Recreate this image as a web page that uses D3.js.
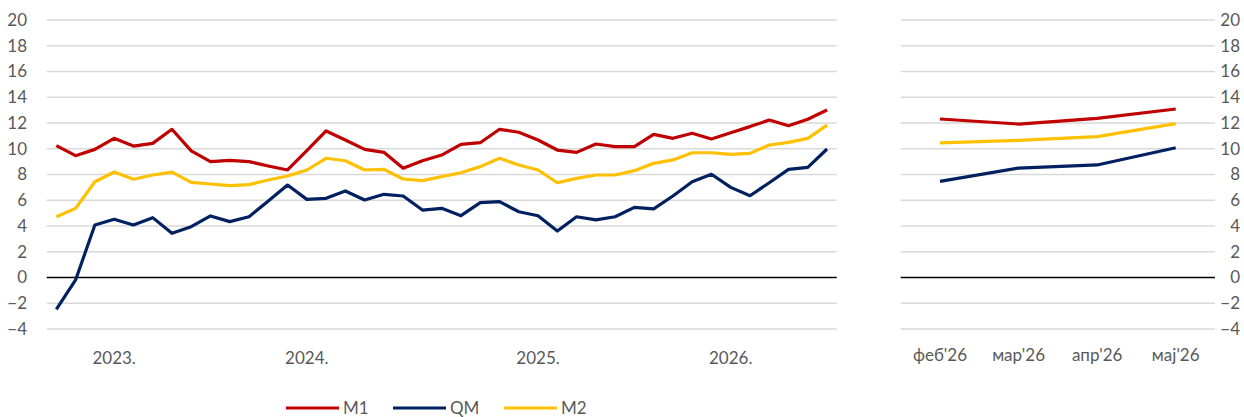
<!DOCTYPE html>
<html>
<head>
<meta charset="utf-8">
<script src="https://cdn.jsdelivr.net/npm/d3@7"></script>
<style>
body{margin:0;background:#fff;}
text{font-family:Lato,"Open Sans",sans-serif;fill:#595959;}
</style>
</head>
<body>
<svg id="chart" width="1244" height="417"></svg>
<script>
// x labels of the long panel (only some months carry a year label)
const yearLabels=["","","","2023.","","","","","","","","","","2024.","","","","","","","","","","","","2025.","","","","","","","","","","2026.","","","","",""];
const m1=[10.24,9.46,9.95,10.81,10.21,10.42,11.51,9.83,9.0,9.1,9.0,8.66,8.35,9.85,11.38,10.68,9.95,9.72,8.48,9.07,9.51,10.34,10.47,11.51,11.28,10.68,9.9,9.72,10.37,10.16,10.16,11.12,10.81,11.2,10.76,11.25,11.72,12.23,11.79,12.29,13.01];
const qm=[-2.47,-0.19,4.08,4.52,4.08,4.65,3.43,3.95,4.78,4.34,4.72,5.94,7.18,6.07,6.15,6.72,6.02,6.46,6.33,5.24,5.37,4.8,5.81,5.89,5.11,4.8,3.61,4.72,4.47,4.72,5.45,5.33,6.33,7.44,8.02,7.0,6.35,7.36,8.4,8.56,9.98];
const m2=[4.72,5.37,7.44,8.19,7.63,7.96,8.19,7.39,7.26,7.13,7.21,7.57,7.88,8.35,9.26,9.07,8.35,8.4,7.65,7.52,7.83,8.14,8.61,9.26,8.74,8.35,7.36,7.7,7.96,7.96,8.3,8.87,9.13,9.69,9.69,9.57,9.64,10.29,10.5,10.81,11.84];

// short panel
const monthLabels=["феб'26","мар'26","апр'26","мај'26"];
const m1Short=[12.31,11.92,12.36,13.09];
const qmShort=[7.47,8.5,8.74,10.08];
const m2Short=[10.45,10.65,10.94,11.95];

const yTicks=[-4,-2,0,2,4,6,8,10,12,14,16,18,20];

const svg=d3.select('#chart');
const colors={M1:'#C00000',QM:'#002060',M2:'#FFC000'};
const fontSize=17;

const y=d3.scaleLinear().domain([-4,20]).range([329,20]);

function panel(x0,x1,cats,series,labelSide,labelY){
	const x=d3.scaleBand().domain(d3.range(cats.length)).range([x0,x1]);
	const g=svg.append('g');

	// gridlines
	g.selectAll('.grid').data(yTicks).enter().append('line')
		.attr('x1',x0).attr('x2',x1)
		.attr('y1',d=>y(d)).attr('y2',d=>y(d))
		.attr('stroke',d=>d==0?'#000':'#D9D9D9')
		.attr('stroke-width',1.5);

	// y tick labels
	const axis=labelSide=='left'?d3.axisLeft(y):d3.axisRight(y);
	const ax=g.append('g')
		.attr('transform','translate('+(labelSide=='left'?27:1240)+',0)')
		.call(axis.tickValues(yTicks).tickSize(0).tickPadding(0));
	ax.select('.domain').remove();
	ax.selectAll('text').attr('font-size',fontSize).attr('fill','#595959')
		.attr('text-anchor','end').style('font-family','Lato,"Open Sans",sans-serif');

	// x labels
	const xa=g.append('g').attr('transform','translate(0,'+labelY+')')
		.call(d3.axisBottom(x).tickFormat(i=>cats[i]).tickSize(0).tickPadding(0));
	xa.select('.domain').remove();
	xa.selectAll('.tick').filter(i=>cats[i]=='').remove();
	xa.selectAll('text').attr('font-size',fontSize).attr('fill','#595959')
		.style('font-family','Lato,"Open Sans",sans-serif');

	const line=d3.line().x((d,i)=>x(i)+x.bandwidth()/2).y(d=>y(d));
	series.forEach(s=>{
		g.append('path').datum(s.values)
			.attr('d',line)
			.attr('fill','none')
			.attr('stroke',colors[s.name])
			.attr('stroke-width',3.2)
			.attr('stroke-linejoin','round');
	});
}

panel(46.7,836.7,yearLabels,[{name:'M1',values:m1},{name:'QM',values:qm},{name:'M2',values:m2}],'left',352);
panel(900.7,1215,monthLabels,[{name:'M1',values:m1Short},{name:'QM',values:qmShort},{name:'M2',values:m2Short}],'right',349);

// legend
const legendItems=[{name:'M1',x:286},{name:'QM',x:393},{name:'M2',x:504}];
const lg=svg.append('g');
legendItems.forEach(d=>{
	lg.append('line').attr('x1',d.x).attr('x2',d.x+53).attr('y1',408).attr('y2',408)
		.attr('stroke',colors[d.name]).attr('stroke-width',3.2);
	lg.append('text').attr('x',d.x+57).attr('y',408).attr('dy','0.36em')
		.attr('font-size',fontSize).text(d.name);
});
</script>
</body>
</html>
